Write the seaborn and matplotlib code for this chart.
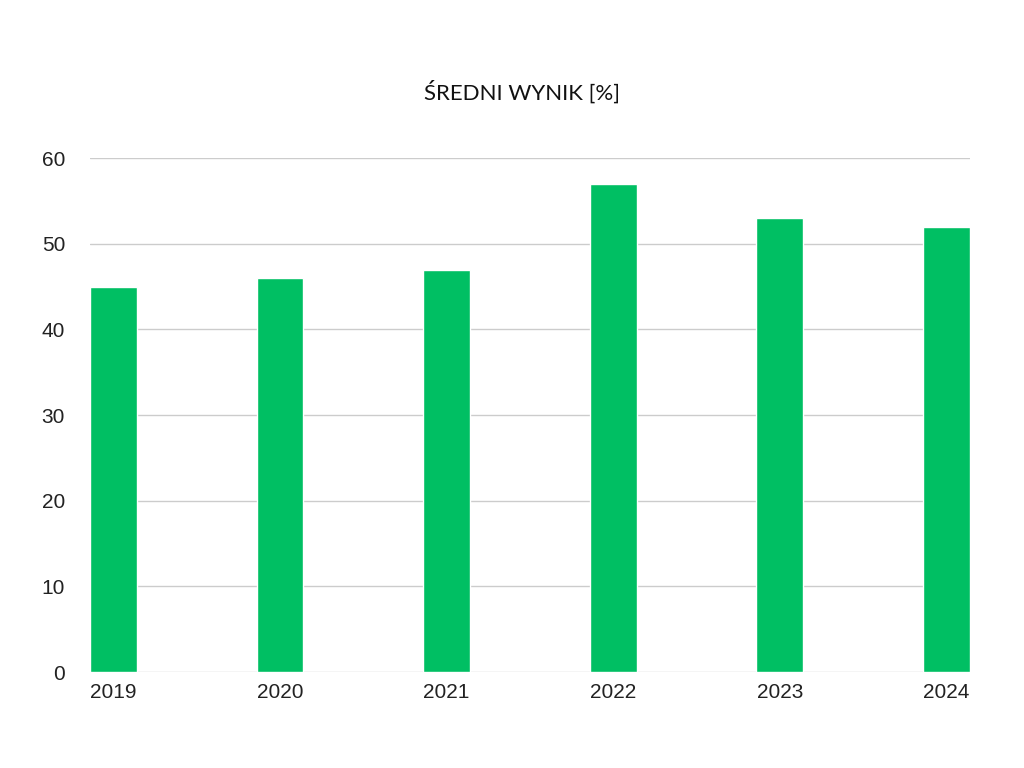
import matplotlib
matplotlib.use("Agg")
import matplotlib.pyplot as plt
import seaborn as sns
import pandas as pd

years = ["2019", "2020", "2021", "2022", "2023", "2024"]
scores = [45, 46, 47, 57, 53, 52]

df = pd.DataFrame({"year": years, "score": scores})

sns.set_style("white")
plt.rcParams["font.family"] = ["Liberation Sans", "DejaVu Sans"]

fig = plt.figure(figsize=(10.24, 7.68), dpi=100)
ax = fig.add_axes([0.088, 0.125, 0.859, 0.669])

bar_w = 0.28
sns.barplot(data=df, x="year", y="score", color="#00BF63", saturation=1,
            width=bar_w, ax=ax, zorder=3)

ax.set_xlim(-bar_w / 2, len(years) - 1 + bar_w / 2)
ax.set_ylim(0, 60)
ax.set_yticks(range(0, 61, 10))
ax.yaxis.grid(True, color="#cccccc", linewidth=1, zorder=0)
ax.set_axisbelow(True)
for s in ax.spines.values():
    s.set_visible(False)
ax.tick_params(axis="both", length=0, labelsize=15, colors="#222222")
ax.tick_params(axis="x", pad=8)
ax.tick_params(axis="y", pad=18)
ax.set_xlabel("")
ax.set_ylabel("")

fig.text(0.51, 0.88, "ŚREDNI WYNIK [%]", ha="center", va="center",
         fontsize=16, family=["Lato", "DejaVu Sans"], color="#111111")

fig.savefig("out.png", dpi=100)
